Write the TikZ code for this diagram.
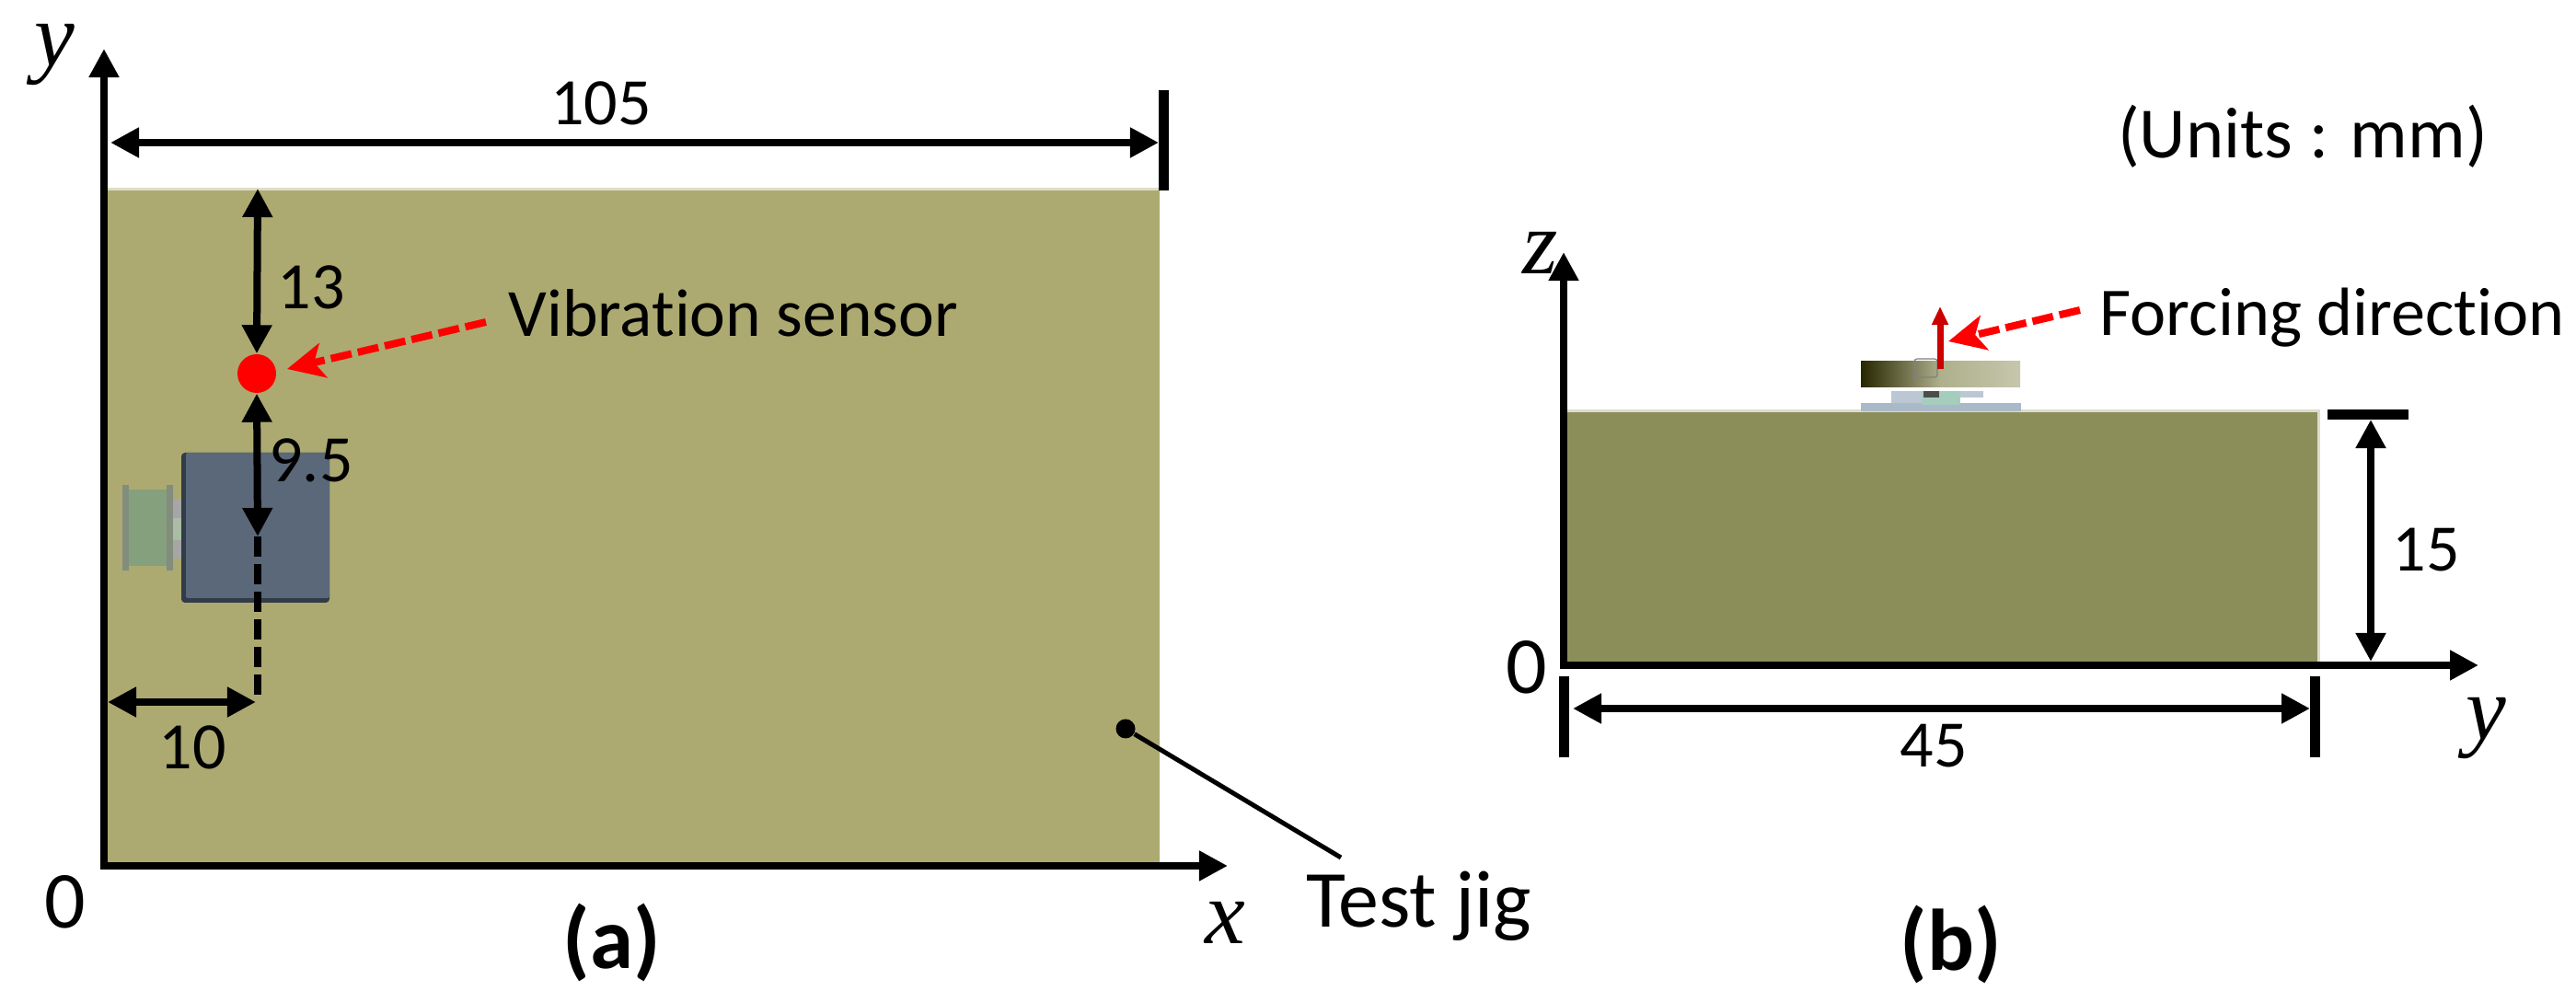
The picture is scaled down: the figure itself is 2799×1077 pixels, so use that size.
\documentclass[tikz,border=0pt]{standalone}
\usepackage{fontspec}
\setmainfont[Ligatures=NoCommon]{Carlito}
\newfontfamily\axisfont{Liberation Serif}
\usetikzlibrary{arrows.meta,positioning,calc}

\definecolor{jigtop}{RGB}{172,170,113}
\definecolor{jigside}{RGB}{140,142,90}
\definecolor{motorblue}{RGB}{90,104,122}
\definecolor{motordark}{RGB}{50,60,72}
\definecolor{tabgreen}{RGB}{133,160,125}
\definecolor{springgray}{RGB}{170,185,200}
\definecolor{springteal}{RGB}{165,205,190}

\tikzset{
  axisline/.style={line width=0.08cm, -{Triangle[length=0.31cm,width=0.31cm]}},
  dimline/.style={line width=0.08cm, {Triangle[length=0.31cm,width=0.31cm]}-{Triangle[length=0.31cm,width=0.31cm]}},
  tickline/.style={line width=0.11cm},
  pointer/.style={red, line width=0.08cm, dash pattern=on 0.23cm off 0.07cm, -{Stealth[length=0.4cm,width=0.38cm,inset=0.1cm]}},
  dimlabel/.style={inner sep=0pt, font=\fontsize{20.5}{25}\selectfont},
  calloutlabel/.style={inner sep=0pt, font=\fontsize{20.9}{25}\selectfont},
  zerolabel/.style={inner sep=0pt, font=\fontsize{25}{30}\selectfont},
  axislabel/.style={inner sep=0pt, font=\axisfont\itshape\fontsize{28}{33}\selectfont},
  captionlabel/.style={inner sep=0pt, font=\bfseries\fontsize{27}{32}\selectfont}
}

\begin{document}
\begin{tikzpicture}[x=0.01cm, y=-0.01cm]

\useasboundingbox (0,0) rectangle (2799,1077);

% Plate, top view
\fill[jigtop!40!white] (113,204) rectangle (1260,207);
\fill[jigtop] (113,207) rectangle (1260,941);

% Motor block
\fill[motordark, rounded corners=0.04cm] (197,492) rectangle (358,655);
\fill[motorblue, rounded corners=0.02cm] (202,492) rectangle (358,650);
\fill[gray!70] (187,542) rectangle (197,563);
\fill[gray!70] (187,587) rectangle (197,607);
\fill[tabgreen!70!white] (187,563) rectangle (197,587);
\fill[tabgreen] (136,532) rectangle (187,615);
\fill[gray!60!tabgreen] (133,527) rectangle (140,620);
\fill[gray!60!tabgreen] (181,527) rectangle (188,620);

% Axes (a)
\coordinate (aorigin) at (113,941);
\coordinate (ytip) at (113,53);
\coordinate (xtip) at (1334,941);
\draw[axisline] ($(aorigin)+(-4,0)$) -- (xtip);
\draw[axisline] (aorigin) -- (ytip);
\node[axislabel] (ylabel) at (59,60) {y};
\node[axislabel] (xlabel) at (1331,1003) {x};
\node[zerolabel] (zeroa) at (71,980) {0};

% Width
\coordinate (widthleft) at (120,155);
\coordinate (widthright) at (1259,155);
\coordinate (widthtop) at (1264,98);
\coordinate (widthbot) at (1264,207);
\draw[tickline] (widthtop) -- (widthbot);
\draw[dimline] (widthleft) -- (widthright);
\node[dimlabel] (widthtext) at (653,112) {105};

% Sensor and its dimensions
\node[circle, fill=red, inner sep=0pt, minimum size=0.42cm] (sensor) at (279,406) {};
\coordinate (platetop) at (280,205);
\coordinate (motormid) at (280,583);
\coordinate (dashend) at (280,757);
\coordinate (edgeleft) at (117,763);
\coordinate (edgeright) at (278,763);
\draw[line width=0.08cm, dash pattern=on 0.22cm off 0.08cm] (motormid) -- (dashend);
\draw[dimline] (platetop) -- (sensor.north);
\draw[dimline] (sensor.south) -- (motormid);
\draw[dimline] (edgeleft) -- (edgeright);
\node[dimlabel] (toptext) at (338,312) {13};
\node[dimlabel] (sensortext) at (338,500) {9.5};
\node[dimlabel] (edgetext) at (209,812) {10};

% Sensor label
\node[calloutlabel, anchor=base west] (vibtext) at (552,366) {Vibration sensor};
\coordinate (vibstart) at (528,350);
\coordinate (vibtip) at (312,401);
\draw[pointer] (vibstart) -- (vibtip);

% Jig label
\node[dimlabel, font=\fontsize{25}{30}\selectfont, anchor=base west] (jigtext) at (1419,1008) {Test jig};
\node[circle, fill=black, inner sep=0pt, minimum size=0.21cm] (jigdot) at (1223,792) {};
\coordinate (jigend) at (1457,932);
\draw[line width=0.05cm] (jigdot) -- (jigend);

\node[captionlabel] (capa) at (665,1024) {(a)};

% Units
\node[dimlabel, font=\fontsize{22.3}{26}\selectfont] (units) at (2502,148) {(Units : mm)};

% Plate, side view
\fill[jigside!30!white] (1699,445) rectangle (2521,448);
\fill[jigside!30!white] (2518,448) rectangle (2521,723);
\fill[jigside] (1699,448) rectangle (2518,723);

% Mass on spring
\fill[springgray] (2022,438) rectangle (2196,447);
\fill[springgray!80!white] (2055,425) rectangle (2155,438);
\fill[springteal] (2088,425) rectangle (2130,440);
\fill[white] (2130,432) rectangle (2160,438);
\fill[black!70] (2090,425) rectangle (2107,432);
\shade[left color=black!70!olive, right color=jigside!50!white, middle color=jigside!70!white] (2022,393) rectangle (2195,421);
\draw[black!50, line width=0.012cm, rounded corners=0.03cm] (2080,390) rectangle (2105,410);

% Force
\coordinate (forcebase) at (2108,401);
\coordinate (forcetip) at (2108,333);
\draw[red!80!black, line width=0.07cm, -{Triangle[length=0.2cm,width=0.17cm]}] (forcebase) -- (forcetip);
\node[calloutlabel, font=\fontsize{21.1}{25}\selectfont, anchor=base west] (forcetext) at (2281,365) {Forcing direction};
\coordinate (forcestart) at (2260,337);
\coordinate (forcepoint) at (2117,371);
\draw[pointer] (forcestart) -- (forcepoint);

% Axes (b)
\coordinate (borigin) at (1699,723);
\coordinate (ztip) at (1699,274);
\coordinate (ybtip) at (2693,723);
\draw[axisline] ($(borigin)+(-4,0)$) -- (ybtip);
\draw[axisline] (borigin) -- (ztip);
\node[axislabel] (zlabel) at (1674,275) {z};
\node[axislabel] (yblabel) at (2701,792) {y};
\node[zerolabel] (zerob) at (1659,725) {0};

% Height
\coordinate (heighttl) at (2529,451);
\coordinate (heighttr) at (2617,451);
\coordinate (heighttop) at (2576,456);
\coordinate (heightbot) at (2576,719);
\draw[tickline] (heighttl) -- (heighttr);
\draw[dimline] (heighttop) -- (heightbot);
\node[dimlabel] (heighttext) at (2636,598) {15};

% Depth
\coordinate (depthlt) at (1699,735);
\coordinate (depthlb) at (1699,823);
\coordinate (depthrt) at (2515,735);
\coordinate (depthrb) at (2515,823);
\coordinate (depthleft) at (1709,770);
\coordinate (depthright) at (2510,770);
\draw[tickline] (depthlt) -- (depthlb);
\draw[tickline] (depthrt) -- (depthrb);
\draw[dimline] (depthleft) -- (depthright);
\node[dimlabel] (depthtext) at (2101,811) {45};

\node[captionlabel] (capb) at (2120,1026) {(b)};

\end{tikzpicture}
\end{document}
